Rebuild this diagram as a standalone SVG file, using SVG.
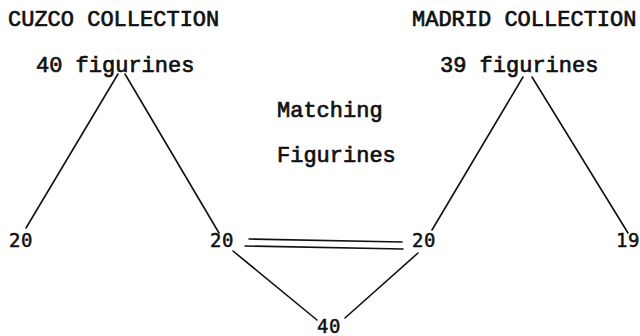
<svg xmlns="http://www.w3.org/2000/svg" width="640" height="336" viewBox="0 0 640 336">
  <style>
    .lbl { font-family: "Liberation Mono", "Courier New", monospace; font-size: 22px; fill: #111; stroke: #111; stroke-width: 0.7; }
    .num { font-family: "DejaVu Sans Mono", "Liberation Mono", monospace; font-size: 19px; letter-spacing: 0.5px; fill: #111; stroke: #111; stroke-width: 0.5; }
    .edge { stroke: #111; stroke-width: 1.6; fill: none; stroke-linecap: round; }
  </style>
  <rect width="640" height="336" fill="#fff"/>

  <g id="cuzco-title"><text class="lbl" x="8" y="26">CUZCO COLLECTION</text></g>
  <g id="madrid-title"><text class="lbl" x="412" y="26">MADRID COLLECTION</text></g>

  <g id="cuzco-total"><text class="lbl" x="36" y="72">40 figurines</text></g>
  <g id="madrid-total"><text class="lbl" x="440" y="72">39 figurines</text></g>

  <g id="matching"><text class="lbl" x="277" y="117">Matching</text><text class="lbl" x="277" y="162">Figurines</text></g>

  <g id="cuzco-unmatched"><text class="num" x="9" y="247">20</text></g>
  <g id="cuzco-matched"><text class="num" x="210" y="247">20</text></g>
  <g id="madrid-matched"><text class="num" x="412" y="247">20</text></g>
  <g id="madrid-unmatched"><text class="num" x="616" y="247">19</text></g>
  <g id="combined"><text class="num" x="317" y="333">40</text></g>

  <g id="connectors">
    <line class="edge" x1="118" y1="74" x2="26" y2="228"/>
    <line class="edge" x1="125" y1="74" x2="219" y2="233"/>
    <line class="edge" x1="523" y1="77" x2="432" y2="230"/>
    <line class="edge" x1="532" y1="77" x2="628" y2="233"/>
    <line class="edge" x1="249" y1="239" x2="402" y2="242"/>
    <line class="edge" x1="245" y1="246" x2="403" y2="249"/>
    <line class="edge" x1="233" y1="251" x2="317" y2="320"/>
    <line class="edge" x1="418" y1="253" x2="345" y2="318"/>
  </g>
</svg>
